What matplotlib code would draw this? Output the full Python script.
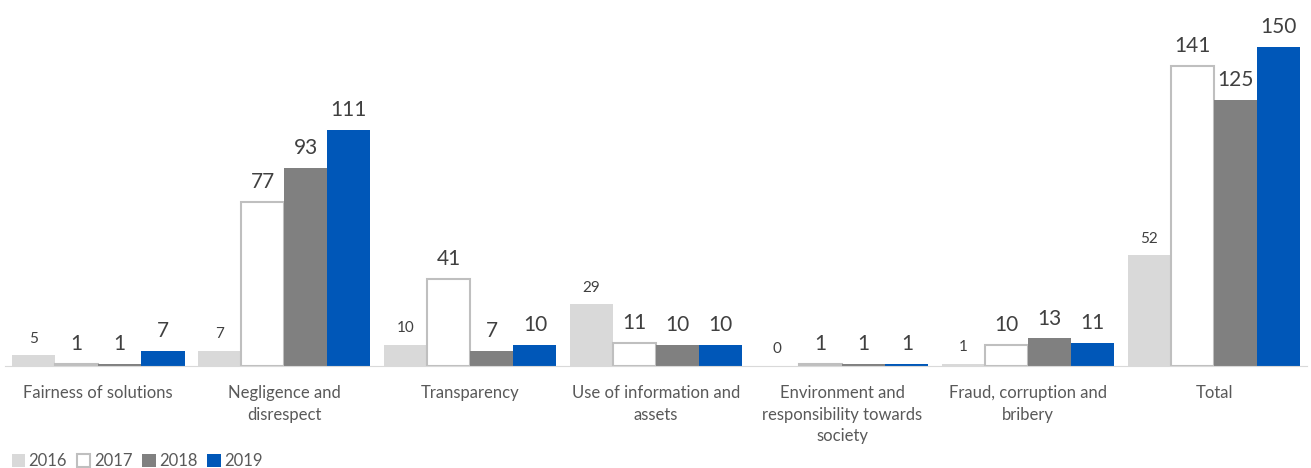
import matplotlib.pyplot as plt
import numpy as np

plt.rcParams['font.family'] = ['Lato', 'DejaVu Sans']

categories = ["Fairness of solutions", "Negligence and\ndisrespect", "Transparency",
              "Use of information and\nassets", "Environment and\nresponsibility towards\nsociety",
              "Fraud, corruption and\nbribery", "Total"]
years = ["2016", "2017", "2018", "2019"]
v2016 = [5, 7, 10, 29, 0, 1, 52]
v2017 = [1, 77, 41, 11, 1, 10, 141]
v2018 = [1, 93, 7, 10, 1, 13, 125]
v2019 = [7, 111, 10, 10, 1, 11, 150]

series = [v2016, v2017, v2018, v2019]
faces = ["#d9d9d9", "white", "#808080", "#0057b8"]
edges = ["#d9d9d9", "#bfbfbf", "#808080", "#0057b8"]
label_sizes = [11, 15, 15, 15]

fig = plt.figure(figsize=(13.11, 4.68), dpi=100)
ax = fig.add_axes([0.004, 0.218, 0.993, 0.782])

x = np.arange(len(categories))
w = 0.232
for i, vals in enumerate(series):
    pos = x + (i - 1.5) * w
    bars = ax.bar(pos, vals, width=w, color=faces[i], edgecolor=edges[i],
                  linewidth=1.5 if i == 1 else 0, label=years[i])
    ax.bar_label(bars, labels=[str(v) for v in vals], padding=7,
                 fontsize=label_sizes[i], color="#404040")

ax.set_xlim(-0.5, len(categories) - 0.5)
ax.set_ylim(0, 172)
ax.set_yticks([])
ax.set_xticks(x)
ax.set_xticklabels(categories, fontsize=12, color="#595959", linespacing=1.4)
ax.tick_params(axis="x", length=0, pad=14)
for side in ["top", "left", "right"]:
    ax.spines[side].set_visible(False)
ax.spines["bottom"].set_color("#d9d9d9")

ax.legend(loc="center left", bbox_to_anchor=(0.0, -0.26), ncol=4, frameon=False,
          fontsize=12, handlelength=0.8, handleheight=0.8, handletextpad=0.2,
          columnspacing=0.6, labelcolor="#595959", borderaxespad=0)

fig.savefig("out.png", dpi=100)
